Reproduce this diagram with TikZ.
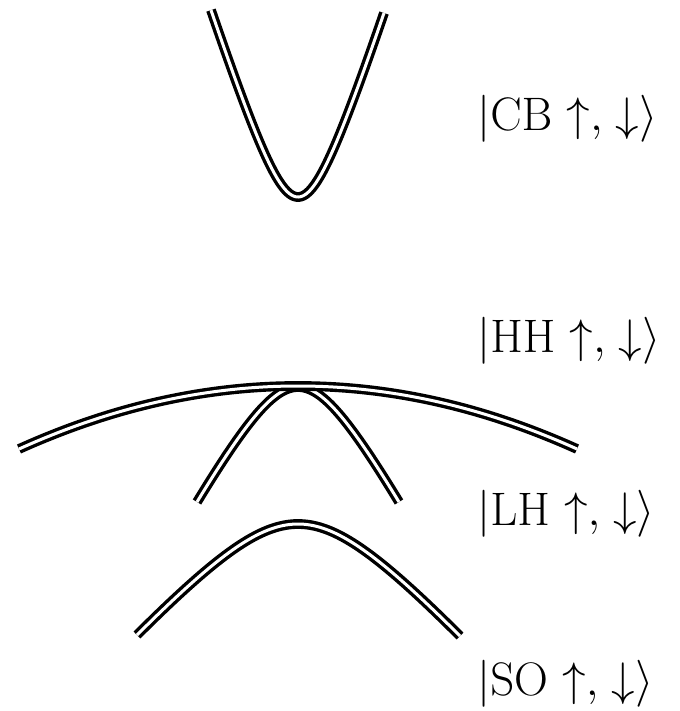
\RequirePackage{fix-cm}
\documentclass[tikz,border=0pt]{standalone}
\begin{document}
\begin{tikzpicture}[x=1pt,y=-1pt,
  band/.style={draw=black,line width=3.4pt,double=white,double distance=3pt},
  lab/.style={anchor=base west,inner sep=0pt,font=\fontsize{47}{56}\selectfont}]
\useasboundingbox (0,0) rectangle (679,711);
% CB band
\draw[band] plot[domain=-87:86,samples=120,smooth] ({298+\x},{197-102.7*(sqrt(1+(\x/33)^2)-1)});
% LH band
\draw[band] plot[domain=-101:101,samples=100,smooth] ({298+\x},{387+91.7*(sqrt(1+(\x/50)^2)-1)});
% HH band
\draw[band] plot[domain=-279:279,samples=100,smooth] ({298+\x},{386+63*(\x/279)^2});
% SO band
\draw[band] plot[domain=-161:162,samples=100,smooth] ({298+\x},{524+89*(sqrt(1+(\x/80)^2)-1)});
% labels
\node[lab] (cb) at (477,131) {$|\mathrm{CB}\ \mathord{\uparrow}{,}\;\mathord{\downarrow}\rangle$};
\node[lab] (hh) at (477,352) {$|\mathrm{HH}\ \mathord{\uparrow}{,}\;\mathord{\downarrow}\rangle$};
\node[lab] (lh) at (477,525) {$|\mathrm{LH}\ \mathord{\uparrow}{,}\;\mathord{\downarrow}\rangle$};
\node[lab] (so) at (477,695) {$|\mathrm{SO}\ \mathord{\uparrow}{,}\;\mathord{\downarrow}\rangle$};
\end{tikzpicture}
\end{document}
